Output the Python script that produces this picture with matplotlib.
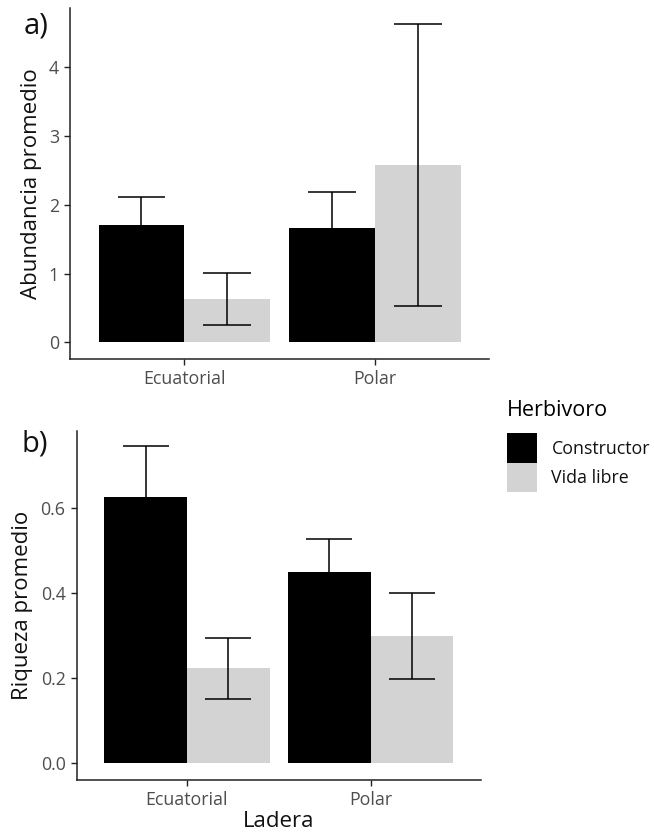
import matplotlib
matplotlib.use("Agg")
import matplotlib.pyplot as plt
from matplotlib.patches import Patch
import numpy as np

plt.rcParams['font.family'] = ['Open Sans', 'DejaVu Sans']

categories = ["Ecuatorial", "Polar"]
groups = ["Constructor", "Vida libre"]
colors = ["#000000", "#D3D3D3"]

# Panel a: Abundancia promedio
abund_mean = {"Constructor": [1.70, 1.67], "Vida libre": [0.63, 2.58]}
abund_err = {"Constructor": [0.41, 0.52], "Vida libre": [0.38, 2.05]}

# Panel b: Riqueza promedio
riq_mean = {"Constructor": [0.627, 0.451], "Vida libre": [0.224, 0.299]}
riq_err = {"Constructor": [0.120, 0.077], "Vida libre": [0.072, 0.101]}

W, H = 654, 838
fig = plt.figure(figsize=(W / 100, H / 100), dpi=100)

def fx(px):
    return px / W

def fy(py):
    return 1 - py / H

ax_a = fig.add_axes([fx(70), fy(359), fx(489.3) - fx(70), fy(8) - fy(359)])
ax_b = fig.add_axes([fx(76.7), fy(780), fx(480.7) - fx(76.7), fy(431) - fy(780)])

tick_color = "#4D4D4D"
axis_color = "#222222"
err_color = "#000000"

def draw(ax, means, errs, ylim, yticks, yticklabels, ylabel, label_x):
    x = np.arange(1, len(categories) + 1)
    bw = 0.45
    for i, g in enumerate(groups):
        pos = x + (i - 0.5) * bw
        ax.bar(pos, means[g], width=bw, color=colors[i], edgecolor="none", zorder=2)
        ax.errorbar(pos, means[g], yerr=errs[g], fmt="none", ecolor=err_color,
                    elinewidth=1.1, capsize=0, zorder=3)
        # caps (width 0.25 in data units, like ggplot geom_errorbar)
        for p, m, e in zip(pos, means[g], errs[g]):
            for yv in (m - e, m + e):
                ax.plot([p - 0.125, p + 0.125], [yv, yv], color=err_color, lw=1.1, zorder=3,
                        solid_capstyle="butt")
    ax.set_xlim(0.4, 2.6)
    ax.set_ylim(*ylim)
    ax.set_xticks(x)
    ax.set_xticklabels(categories)
    ax.set_yticks(yticks)
    ax.set_yticklabels(yticklabels)
    for s in ["top", "right"]:
        ax.spines[s].set_visible(False)
    for s in ["left", "bottom"]:
        ax.spines[s].set_color(axis_color)
        ax.spines[s].set_linewidth(1.1)
    ax.tick_params(axis="both", colors=axis_color, labelcolor=tick_color, labelsize=12.8,
                   length=4, width=1.0, pad=4)
    ax.set_ylabel(ylabel, fontsize=16, color="#111111")
    ax.yaxis.set_label_coords(label_x, 0.5)

draw(ax_a, abund_mean, abund_err, (-0.24, 4.86), [0, 1, 2, 3, 4], ["0", "1", "2", "3", "4"],
     "Abundancia promedio", -0.067)
draw(ax_b, riq_mean, riq_err, (-0.039, 0.782), [0.0, 0.2, 0.4, 0.6], ["0.0", "0.2", "0.4", "0.6"],
     "Riqueza promedio", -0.108)
ax_b.set_xlabel("Ladera", fontsize=16, color="#111111", labelpad=1)

fig.text(fx(24), fy(11), "a)", fontsize=21, va="top", ha="left", color="#111111")
fig.text(fx(22), fy(429), "b)", fontsize=21, va="top", ha="left", color="#111111")

handles = [Patch(facecolor=c, edgecolor="none") for c in colors]
leg = fig.legend(handles, groups, title="Herbivoro", loc="upper left",
                 bbox_to_anchor=(fx(507), fy(400)), frameon=False, fontsize=12.8,
                 title_fontsize=15.5, handlelength=1.7, handleheight=2.15,
                 labelspacing=0.0, handletextpad=0.8, borderpad=0, borderaxespad=0,
                 alignment="left")
leg._legend_box.sep = 9
for t in leg.get_texts():
    t.set_color("#111111")

fig.savefig("out.png", dpi=100)
